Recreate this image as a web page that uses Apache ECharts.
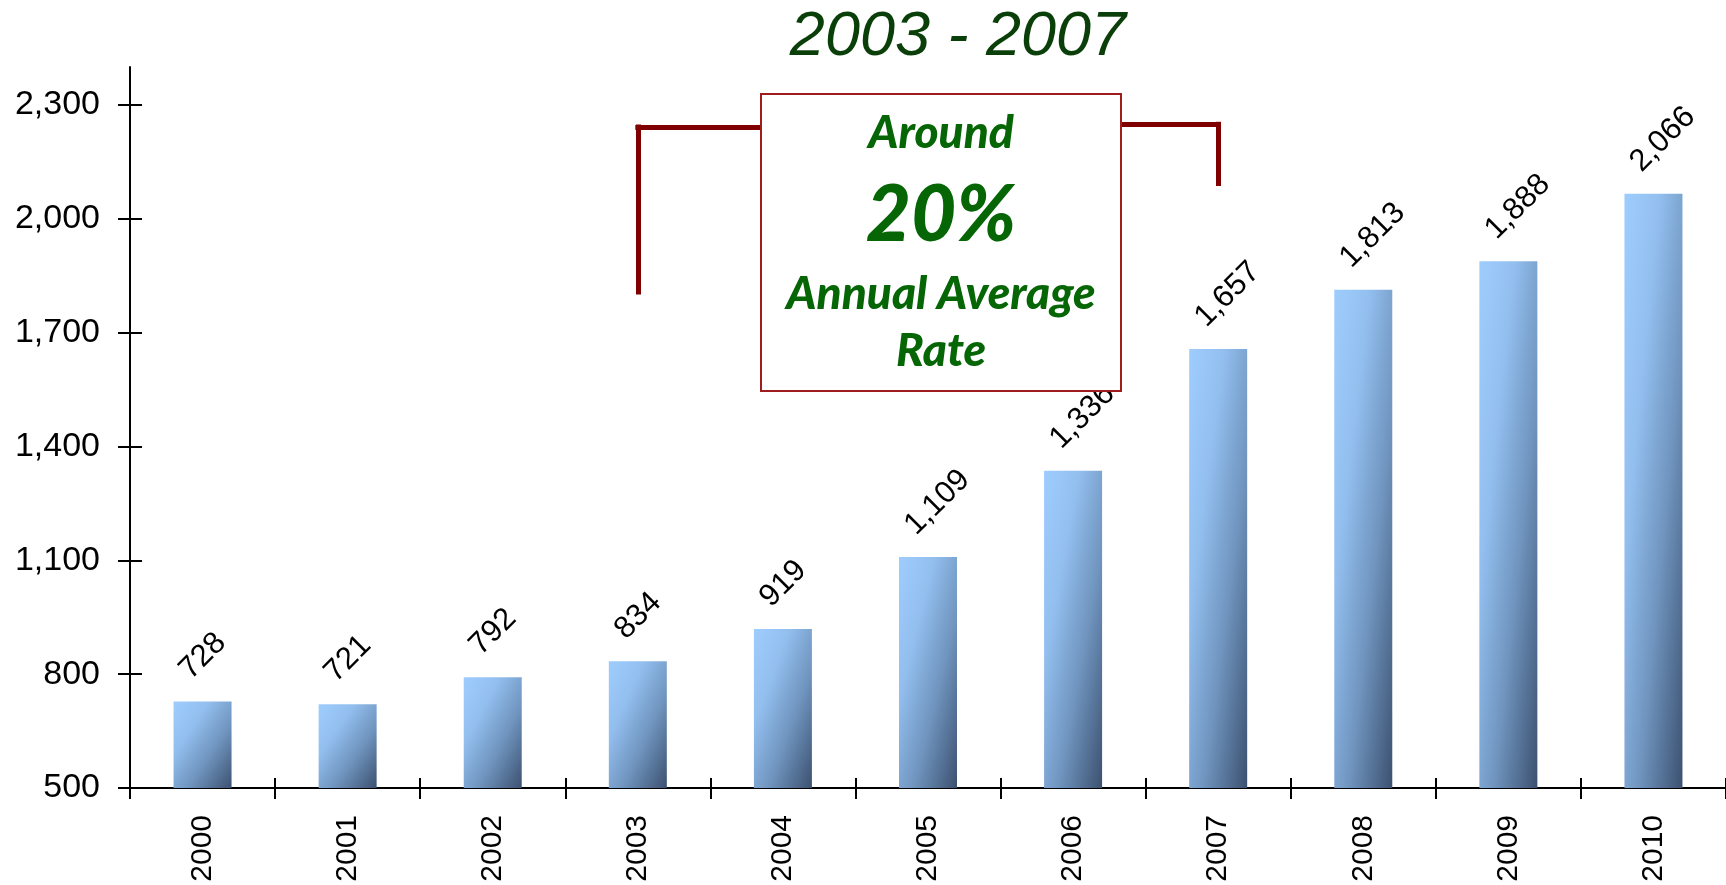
<!DOCTYPE html>
<html>
<head>
<meta charset="utf-8">
<title>2003 - 2007</title>
<script src="https://cdn.jsdelivr.net/npm/echarts@6/dist/echarts.min.js"></script>
<style>
  html, body { margin: 0; padding: 0; background: #ffffff; }
  #chart { width: 1726px; height: 885px; }
</style>
</head>
<body>
<div id="chart"></div>
<script>
// Yearly totals, 2000-2010
const years = ['2000', '2001', '2002', '2003', '2004', '2005', '2006', '2007', '2008', '2009', '2010'];
const totals = [728, 721, 792, 834, 919, 1109, 1336, 1657, 1813, 1888, 2066];
const yTicks = [500, 800, 1100, 1400, 1700, 2000, 2300];

// Bracket spanning the growth period, drawn behind the note box
const bracketYears = ['2003', '2005', '2007'];
const bracketLeft = [1807, 2242];
const bracketRight = [2249, 2093];

const periodTitle = '2003 - 2007';
const noteLines = ['Around', '20%', 'Annual Average', 'Rate'];

const Y_MIN = 500, Y_MAX = 2400;
const GRID = { left: 130, right: 0, top: 67, bottom: 97 };
const W = 1726, H = 885;
const gridW = W - GRID.left - GRID.right;
const gridH = H - GRID.top - GRID.bottom;
const BAR_W = 58;
const AXIS_FONT = 'Liberation Sans';
const NOTE_FONT = 'Lato, "Open Sans", sans-serif';

const gradStops = [
  { offset: 0, color: '#9ecdfd' },
  { offset: 0.3, color: '#93bfef' },
  { offset: 0.62, color: '#7095bf' },
  { offset: 1, color: '#3c5170' }
];

const chart = echarts.init(document.getElementById('chart'), null, { renderer: 'canvas' });

const axisLineStyle = { color: '#000', width: 2 };

const option = {
  animation: false,
  backgroundColor: '#ffffff',
  grid: Object.assign({ outerBoundsMode: 'none', containLabel: false }, GRID),
  xAxis: [
    {
      type: 'category',
      data: years,
      position: 'bottom',
      boundaryGap: true,
      axisLine: { show: true, lineStyle: axisLineStyle },
      axisTick: { show: true, length: 11, lineStyle: axisLineStyle },
      axisLabel: {
        rotate: 90, margin: 27, color: '#000',
        fontFamily: AXIS_FONT, fontSize: 30
      },
      splitLine: { show: false }
    },
    {
      // upper half of the crossing category ticks
      type: 'category',
      data: years,
      position: 'top',
      offset: -gridH,
      boundaryGap: true,
      axisLine: { show: false },
      axisTick: { show: true, length: 10, lineStyle: axisLineStyle },
      axisLabel: { show: false },
      splitLine: { show: false }
    }
  ],
  yAxis: [
    {
      type: 'value',
      min: Y_MIN, max: Y_MAX,
      position: 'left',
      axisLine: { show: true, lineStyle: axisLineStyle },
      axisTick: { show: true, length: 12, customValues: yTicks, lineStyle: axisLineStyle },
      axisLabel: {
        customValues: yTicks, margin: 30, color: '#000',
        fontFamily: AXIS_FONT, fontSize: 34,
        formatter: v => v.toLocaleString('en-US')
      },
      splitLine: { show: false }
    },
    {
      // right half of the crossing value ticks
      type: 'value',
      min: Y_MIN, max: Y_MAX,
      position: 'right',
      offset: -gridW,
      axisLine: { show: false },
      axisTick: { show: true, length: 12, customValues: yTicks, lineStyle: axisLineStyle },
      axisLabel: { show: false },
      splitLine: { show: false }
    }
  ],
  series: [
    {
      id: 'bars',
      type: 'bar',
      xAxisIndex: 0,
      yAxisIndex: 0,
      data: totals,
      barWidth: BAR_W,
      itemStyle: { color: '#8fb8e6' },
      label: {
        show: true,
        position: [22, -16],
        rotate: 45,
        align: 'left',
        verticalAlign: 'bottom',
        color: '#000',
        fontFamily: AXIS_FONT,
        fontSize: 31,
        formatter: p => p.value.toLocaleString('en-US')
      },
      markLine: {
        silent: true,
        symbol: 'none',
        label: { show: false },
        lineStyle: { color: '#800000', width: 5, type: 'solid', cap: 'square' },
        emphasis: { disabled: true },
        data: [
          [{ coord: [bracketYears[0], bracketLeft[0]] }, { coord: [bracketYears[0], bracketLeft[1]] }],
          [{ coord: [bracketYears[0], bracketLeft[1]] }, { coord: [bracketYears[1], bracketLeft[1]] }],
          [{ coord: [bracketYears[1], bracketRight[0]] }, { coord: [bracketYears[2], bracketRight[0]] }],
          [{ coord: [bracketYears[2], bracketRight[0]] }, { coord: [bracketYears[2], bracketRight[1]] }]
        ]
      }
    }
  ],
  graphic: [
    {
      type: 'text',
      z: 100,
      style: {
        text: periodTitle,
        x: 958, y: 37,
        textAlign: 'center', textVerticalAlign: 'middle',
        font: 'italic 63px "Liberation Sans", Arial, sans-serif',
        fill: '#0a3f0a'
      }
    },
    {
      type: 'group',
      z: 100,
      children: [
        {
          type: 'rect',
          z: 100,
          shape: { x: 761, y: 94, width: 360, height: 297 },
          style: { fill: '#ffffff', stroke: '#9e1c1c', lineWidth: 2 }
        },
        {
          type: 'text', z: 101,
          style: { text: noteLines[0], x: 941, y: 133, textAlign: 'center', textVerticalAlign: 'middle',
                   font: 'italic 900 46px ' + NOTE_FONT, fill: '#066606' }
        },
        {
          type: 'text', z: 101,
          style: { text: noteLines[1], x: 941, y: 216, textAlign: 'center', textVerticalAlign: 'middle',
                   font: 'italic 900 78px ' + NOTE_FONT, fill: '#066606' }
        },
        {
          type: 'text', z: 101,
          style: { text: noteLines[2], x: 941, y: 294, textAlign: 'center', textVerticalAlign: 'middle',
                   font: 'italic 900 46px ' + NOTE_FONT, fill: '#066606' }
        },
        {
          type: 'text', z: 101,
          style: { text: noteLines[3], x: 941, y: 351, textAlign: 'center', textVerticalAlign: 'middle',
                   font: 'italic 900 46px ' + NOTE_FONT, fill: '#066606' }
        }
      ]
    }
  ]
};

chart.setOption(option);

// Diagonal shading in each bar's own box: isolines follow x/w + y/h = const
const basePx = chart.convertToPixel({ yAxisIndex: 0 }, Y_MIN);
const shaded = totals.map(v => {
  const h = Math.max(1, basePx - chart.convertToPixel({ yAxisIndex: 0 }, v));
  const w = BAR_W;
  const d = h * h + w * w;
  return {
    value: v,
    itemStyle: {
      color: new echarts.graphic.LinearGradient(0, 0, 2 * h * h / d, 2 * w * w / d, gradStops)
    }
  };
});
chart.setOption({ series: [{ id: 'bars', data: shaded }] });
</script>
</body>
</html>
